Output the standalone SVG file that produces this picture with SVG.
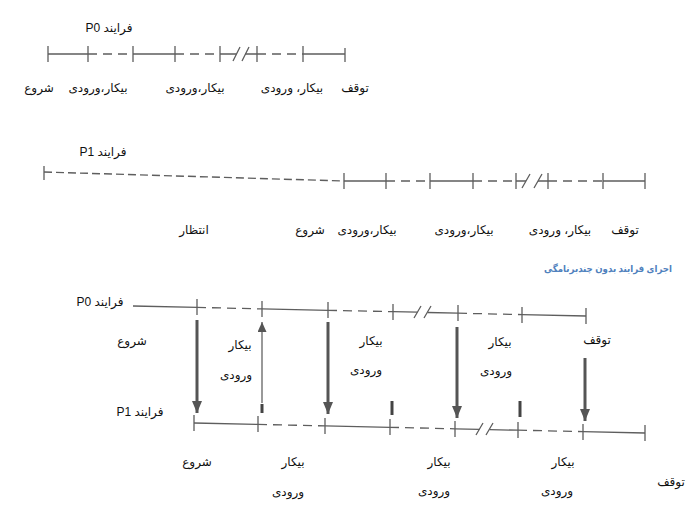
<svg xmlns="http://www.w3.org/2000/svg" width="700" height="513" viewBox="0 0 700 513">
<style>
.s{stroke:#5e5e5e;stroke-width:1.3;fill:none}
.d{stroke:#5e5e5e;stroke-width:1.3;fill:none;stroke-dasharray:9 6}
.dw{stroke:#5e5e5e;stroke-width:1.4;fill:none;stroke-dasharray:8 4}
.t{stroke:#5e5e5e;stroke-width:1.3;fill:none}
.ar{stroke:#555;stroke-width:3;fill:none}
.arT{stroke:#555;stroke-width:1.2;fill:none}
.stub{stroke:#444;stroke-width:3;fill:none}
text{font-family:"Liberation Sans","DejaVu Sans",sans-serif;font-size:12px;fill:#111;text-anchor:middle}
.ttl{font-size:9.5px;font-weight:bold;fill:#4f81bd}
</style>
<defs>
<marker id="ah" viewBox="0 0 12 10" refX="12" refY="5" markerWidth="12" markerHeight="10" markerUnits="userSpaceOnUse" orient="auto">
<path d="M0,0 L12,5 L0,10 z" fill="#555"/>
</marker>
<marker id="ahs" viewBox="0 0 10 9" refX="10" refY="4.5" markerWidth="10" markerHeight="9" markerUnits="userSpaceOnUse" orient="auto">
<path d="M0,0 L10,4.5 L0,9 z" fill="#555"/>
</marker>
</defs>
<rect width="700" height="513" fill="#fff"/>

<!-- Timeline 1: P0 -->
<g id="timeline-p0-top">
<text x="109" y="32" direction="rtl">فرایند P0</text>
<path class="s" d="M48 54 H88 M133 54 H175 M220 54 H236.5 M245 54 H257 M303 54 H345"/>
<path class="d" d="M88 54 H133 M175 54 H220 M257 54 H303"/>
<path class="t" d="M48 46 V62 M88 46 V62 M133 46 V62 M175 46 V62 M220 46 V62 M257 46 V62 M303 46 V62 M345 48 V62 M233 61 L240 47 M242 61 L249 47"/>
<text x="39" y="92" direction="rtl">شروع</text>
<text x="98" y="92" direction="rtl">بیکار،ورودی</text>
<text x="195" y="92" direction="rtl">بیکار،ورودی</text>
<text x="292" y="92" direction="rtl">بیکار، ورودی</text>
<text x="355" y="92" direction="rtl">توقف</text>
</g>

<!-- Timeline 2: P1 -->
<g id="timeline-p1-top">
<text x="103" y="156" direction="rtl">فرایند P1</text>
<path class="dw" d="M44 172 L344 181"/>
<path class="s" d="M344 181 H386 M430 181 H473 M516 181 H526 M538 181 H548 M603 181 H645"/>
<path class="d" d="M386 181 H430 M473 181 H516 M548 181 H603"/>
<path class="t" d="M44 166 V180 M344 173 V189 M386 173 V189 M430 173 V189 M473 173 V189 M516 173 V189 M548 173 V189 M603 173 V189 M645 173 V189 M522 188 L530 174 M534 188 L542 174"/>
<text x="194" y="234" direction="rtl">انتظار</text>
<text x="310" y="234" direction="rtl">شروع</text>
<text x="367" y="234" direction="rtl">بیکار،ورودی</text>
<text x="464" y="234" direction="rtl">بیکار،ورودی</text>
<text x="560" y="234" direction="rtl">بیکار، ورودی</text>
<text x="625" y="234" direction="rtl">توقف</text>
</g>

<g id="title">
<text class="ttl" x="608" y="272" direction="rtl" textLength="128" lengthAdjust="spacingAndGlyphs">اجرای فرایند بدون چندبرنامگی</text>
</g>

<!-- Timeline 3: bottom P0 -->
<g id="timeline-p0-bottom">
<text x="100" y="306" direction="rtl">فرایند P0</text>
<path class="s" d="M133 306 L197 307.4 M262 308.9 L328 310.3 M393 311.7 L417.5 312.2 M427.5 312.5 L458 313.2 M522 314.6 L586 316"/>
<path class="d" d="M197 307.4 L262 308.9 M328 310.3 L393 311.7 M458 313.2 L522 314.6"/>
<path class="t" d="M197 299 V315 M262 301 V317 M328 302 V318 M393 304 V320 M458 305 V321 M522 307 V323 M586 308 V324 M414 318 L421 306 M424 318 L431 306"/>
<text x="132" y="345" direction="rtl">شروع</text>
<text x="240" y="349" direction="rtl">بیکار</text>
<text x="236" y="379" direction="rtl">ورودی</text>
<text x="371" y="345" direction="rtl">بیکار</text>
<text x="366" y="374" direction="rtl">ورودی</text>
<text x="500" y="346" direction="rtl">بیکار</text>
<text x="496" y="375" direction="rtl">ورودی</text>
<text x="597" y="344" direction="rtl">توقف</text>
</g>

<!-- Timeline 4: bottom P1 -->
<g id="timeline-p1-bottom">
<text x="140" y="416" direction="rtl">فرایند P1</text>
<path class="s" d="M194 423 L258 424.4 M325 425.9 L390 427.3 M455 428.8 L479.5 429.3 M489.5 429.6 L518 430.2 M583 431.6 L645 433"/>
<path class="d" d="M258 424.4 L325 425.9 M390 427.3 L455 428.8 M518 430.2 L583 431.6"/>
<path class="t" d="M194 415 V431 M258 416 V432 M325 418 V434 M390 419 V435 M455 421 V437 M518 422 V438 M583 424 V440 M645 425 V441 M476 435 L483 423 M486 435 L493 423"/>
<text x="197" y="466" direction="rtl">شروع</text>
<text x="293" y="466" direction="rtl">بیکار</text>
<text x="288" y="496" direction="rtl">ورودی</text>
<text x="439" y="466" direction="rtl">بیکار</text>
<text x="434" y="495" direction="rtl">ورودی</text>
<text x="563" y="466" direction="rtl">بیکار</text>
<text x="557" y="495" direction="rtl">ورودی</text>
<text x="671" y="486" direction="rtl">توقف</text>
</g>

<!-- Connectors -->
<g id="connectors">
<line class="ar" x1="197" y1="320" x2="197" y2="413" marker-end="url(#ah)"/>
<line class="arT" x1="262" y1="403" x2="262" y2="322" marker-end="url(#ahs)"/>
<line class="stub" x1="262" y1="404" x2="262" y2="413"/>
<line class="ar" x1="328" y1="322" x2="328" y2="414" marker-end="url(#ah)"/>
<line class="stub" x1="392" y1="401" x2="392" y2="415"/>
<line class="ar" x1="457" y1="327" x2="457" y2="418" marker-end="url(#ah)"/>
<line class="stub" x1="520" y1="401" x2="520" y2="417"/>
<line class="ar" x1="585" y1="358" x2="585" y2="421" marker-end="url(#ah)"/>
</g>
</svg>
